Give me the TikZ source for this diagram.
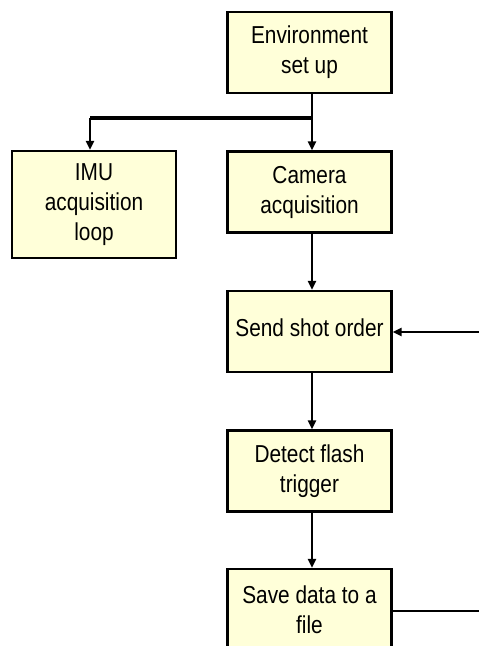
\documentclass[tikz,border=0pt]{standalone}
\usepackage{fontspec}
\setmainfont{Liberation Sans}[FakeStretch=0.85]
\usetikzlibrary{arrows.meta}
\definecolor{boxfill}{RGB}{255,255,217}
\tikzset{
  stepbox/.style={draw=black, line width=2.4pt, fill=boxfill, minimum width=164pt, minimum height=81pt,
    inner sep=0pt, align=center, font=\fontsize{24.5}{30}\selectfont},
  conn/.style={line width=2.4pt, -{Triangle[length=9pt,width=8pt]}},
  plain/.style={line width=2.4pt}
}
\begin{document}
\begin{tikzpicture}[x=1pt,y=-1pt]
\useasboundingbox (0,0) rectangle (479,646);
\clip (0,0) rectangle (479,646);
\node[stepbox] (env) at (309.5,52.5) {Environment\\set up};
\node[stepbox, minimum height=107pt] (imu) at (94,204.5) {IMU\\acquisition\\loop};
\node[stepbox] (cam) at (309.5,192) {Camera\\acquisition};
\node[stepbox] (send) at (309.5,331.5) {\raisebox{4pt}[\height][\depth]{Send shot order}};
\node[stepbox] (det) at (309.5,471) {Detect flash\\trigger};
\node[stepbox] (save) at (309.5,609.5) {Save data to a\\file};
\coordinate (br) at (312,118);
\coordinate (rin) at (480,332);
\coordinate (rout) at (480,611);
\draw[conn] ([xshift=2.5pt]env.south) -- ([xshift=2.5pt]cam.north);
\draw[line width=4.5pt] (br) -- (br -| 90,0);
\draw[conn] ([xshift=-4pt]imu.north |- br) -- ([xshift=-4pt]imu.north);
\draw[conn] ([xshift=2.5pt]cam.south) -- ([xshift=2.5pt]send.north);
\draw[conn] ([xshift=2.5pt]send.south) -- ([xshift=2.5pt]det.north);
\draw[conn] ([xshift=2.5pt]det.south) -- ([xshift=2.5pt]save.north);
\draw[conn] (rin) -- (rin -| send.east);
\draw[plain] (rout -| save.east) -- (rout);
\end{tikzpicture}
\end{document}
